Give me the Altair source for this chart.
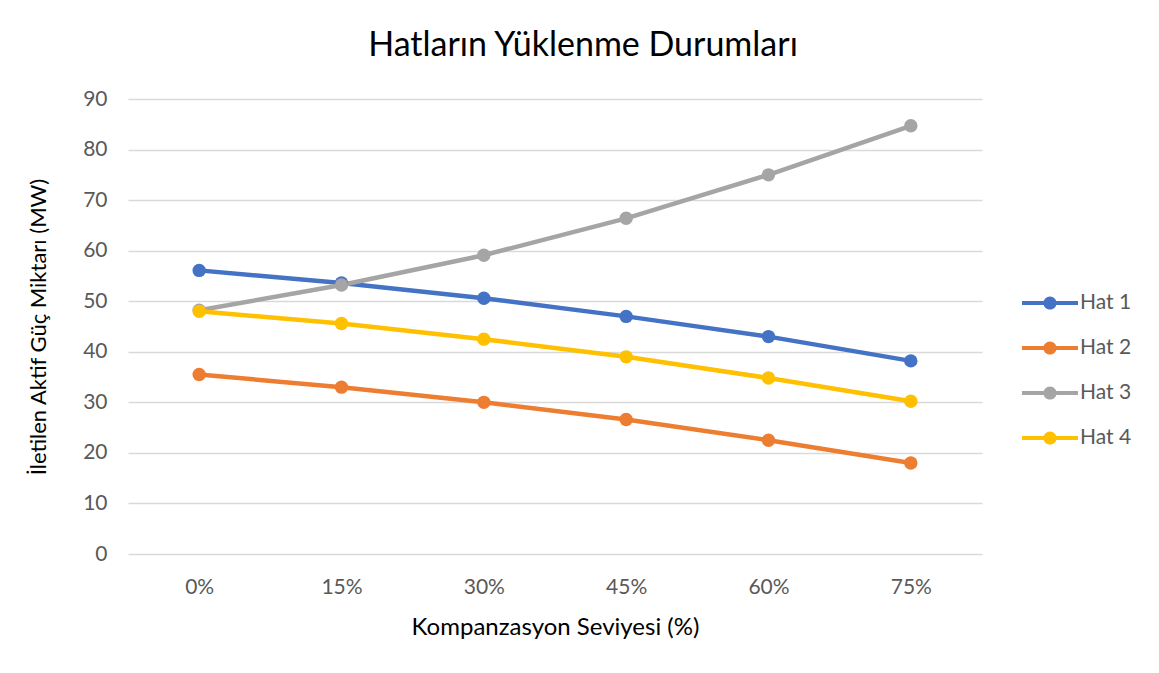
import altair as alt
import pandas as pd

levels = ["0%", "15%", "30%", "45%", "60%", "75%"]
series_names = ["Hat 1", "Hat 2", "Hat 3", "Hat 4"]
hat1 = [56.1, 53.6, 50.6, 47.0, 43.0, 38.2]
hat2 = [35.5, 33.0, 30.0, 26.6, 22.5, 18.0]
hat3 = [48.2, 53.2, 59.1, 66.4, 75.0, 84.7]
hat4 = [48.0, 45.6, 42.5, 39.0, 34.8, 30.2]
colors = ["#4472C4", "#ED7D31", "#A5A5A5", "#FFC000"]
y_ticks = [0, 10, 20, 30, 40, 50, 60, 70, 80, 90]

rows = []
for name, vals in zip(series_names, [hat1, hat2, hat3, hat4]):
    for lv, v in zip(levels, vals):
        rows.append({"Seviye": lv, "Hat": name, "Deger": v})
df = pd.DataFrame(rows)

FONT = "Lato"
LABEL_COLOR = "#595959"

legend_path = ("M-1.4,-0.1L1.4,-0.1L1.4,0.1L-1.4,0.1Z "
               "M-0.33,0A0.33,0.33,0,1,1,0.33,0A0.33,0.33,0,1,1,-0.33,0Z")

x_enc = alt.X("Seviye:N", sort=levels,
              scale=alt.Scale(type="point", padding=0.5),
              axis=alt.Axis(title="Kompanzasyon Seviyesi (%)", labelAngle=0,
                            domain=False, ticks=False, tickSize=0, grid=False,
                            labelPadding=22, titlePadding=18,
                            labelFontSize=21, titleFontSize=24,
                            labelColor=LABEL_COLOR, titleColor="#000000",
                            labelFont=FONT, titleFont=FONT,
                            titleFontWeight="normal"))
y_enc = alt.Y("Deger:Q",
              scale=alt.Scale(domain=[0, 90], nice=False),
              axis=alt.Axis(title="İletilen Aktif Güç Miktarı (MW)",
                            values=y_ticks, domain=False, ticks=False, tickSize=0,
                            grid=True, gridColor="#D9D9D9", gridWidth=1.3,
                            labelPadding=21, titlePadding=32,
                            labelFontSize=21, titleFontSize=22,
                            labelColor=LABEL_COLOR, titleColor="#000000",
                            labelFont=FONT, titleFont=FONT,
                            titleFontWeight="normal"))
color_scale = alt.Scale(domain=series_names, range=colors)

lines = alt.Chart(df).mark_line(strokeWidth=4.5).encode(
    x=x_enc, y=y_enc,
    color=alt.Color("Hat:N", scale=color_scale, legend=None),
)

points = alt.Chart(df).mark_point(filled=True, size=180, opacity=1).encode(
    x=x_enc, y=y_enc,
    color=alt.Color("Hat:N", scale=color_scale,
                    legend=alt.Legend(title=None, orient="none",
                                      legendX=902, legendY=184,
                                      symbolType=legend_path, symbolSize=1600,
                                      symbolStrokeWidth=0, symbolOpacity=1,
                                      labelOffset=10, rowPadding=15,
                                      labelFontSize=21, labelFont=FONT,
                                      labelColor=LABEL_COLOR)),
)

chart = (lines + points).resolve_legend(color="independent").properties(
    width=854, height=455,
    title=alt.TitleParams("Hatların Yüklenme Durumları", fontSize=34, font=FONT,
                          fontWeight="normal", color="#000000",
                          anchor="middle", dx=28, offset=25),
    autosize=alt.AutoSizeParams(type="none"),
    padding={"left": 120, "top": 91, "right": 169, "bottom": 100},
    background="white",
).configure_view(stroke=None)

chart.save("out.html", embed_options={"renderer": "svg", "actions": False})
